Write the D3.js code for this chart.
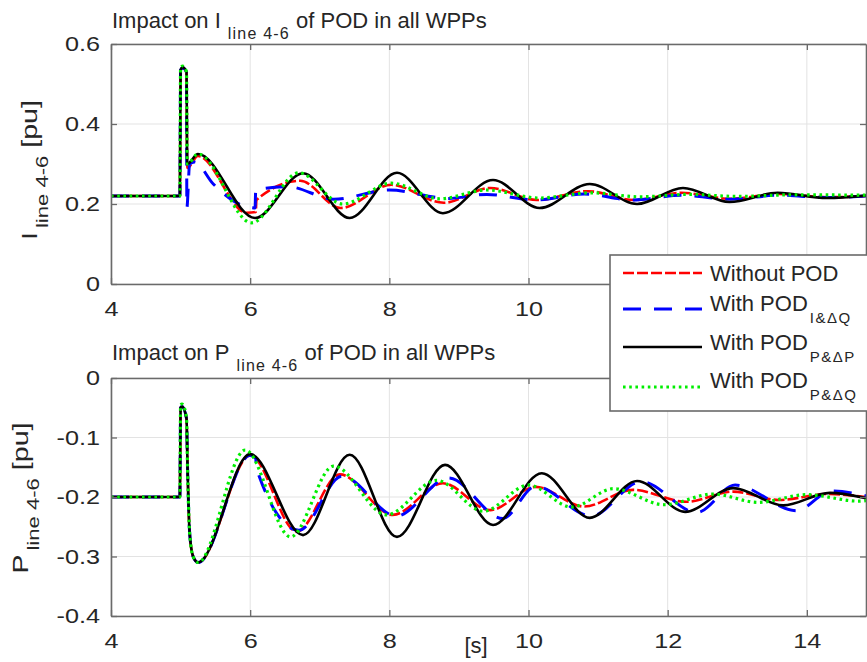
<!DOCTYPE html>
<html>
<head>
<meta charset="utf-8">
<script src="https://cdn.jsdelivr.net/npm/d3@7"></script>
<style>
  html, body { margin: 0; padding: 0; background: #fff; }
  svg { display: block; }
  text { font-family: "Liberation Sans", Arial, Helvetica, sans-serif; fill: #262626; }
</style>
</head>
<body>
<svg id="chart" width="867" height="662"></svg>
<script>
// Time axis ticks [s]
const xTicks = [4, 6, 8, 10, 12, 14];
const yTicksI = [0, 0.2, 0.4, 0.6];
const yTicksP = [-0.4, -0.3, -0.2, -0.1, 0];

// Series names (legend order = drawing order)
const seriesNames = ["Without POD", "With POD", "With POD", "With POD"];
const seriesSubs = ["", "I&\u0394Q", "P&\u0394P", "P&\u0394Q"];

// Line current I_line 4-6 [pu]: [time s, value]
const iWithout = [[4,0.22],[4.99,0.22],[5.0,0.535],[5.03,0.54],[5.085,0.53],[5.095,0.29],[5.25,0.32],[5.95,0.178],[6.08,0.18],[6.09,0.21],[6.72,0.258],[7.3,0.19],[8.03,0.248],[8.78,0.203],[9.45,0.24],[10.12,0.21],[10.85,0.232],[11.52,0.21],[12.2,0.228],[12.9,0.213],[13.6,0.225],[14.3,0.217],[14.85,0.22]];
const iIdQ = [[4,0.22],[4.99,0.22],[5.0,0.535],[5.03,0.54],[5.085,0.53],[5.09,0.19],[5.13,0.3],[5.2,0.305],[5.47,0.25],[5.95,0.193],[6.07,0.19],[6.08,0.235],[6.55,0.243],[7.2,0.212],[8.0,0.235],[8.85,0.214],[9.4,0.224],[10.1,0.21],[10.8,0.225],[11.5,0.21],[12.2,0.222],[12.9,0.212],[13.6,0.222],[14.3,0.216],[14.85,0.22]];
const iPdP = [[4,0.22],[4.99,0.22],[5.0,0.535],[5.03,0.542],[5.085,0.53],[5.095,0.3],[5.25,0.325],[6.07,0.165],[6.76,0.277],[7.43,0.165],[8.11,0.278],[8.77,0.177],[9.49,0.26],[10.16,0.19],[10.88,0.25],[11.56,0.2],[12.22,0.24],[12.89,0.205],[13.58,0.228],[14.29,0.215],[14.85,0.221]];
const iPdQ = [[4,0.22],[4.99,0.22],[5.0,0.54],[5.03,0.545],[5.085,0.53],[5.095,0.3],[5.25,0.325],[6.02,0.153],[6.7,0.278],[7.33,0.2],[8.03,0.252],[8.72,0.213],[9.4,0.235],[10.15,0.215],[10.9,0.228],[11.6,0.218],[12.3,0.224],[13.0,0.219],[13.8,0.223],[14.85,0.222]];

// Active power P_line 4-6 [pu]: [time s, value]
const pWithout = [[4,-0.2],[4.99,-0.2],[5.0,-0.05],[5.02,-0.048],[5.085,-0.068],[5.1,-0.15],[5.13,-0.26],[5.18,-0.3],[5.25,-0.31],[6.0,-0.13],[6.67,-0.258],[7.29,-0.162],[8.05,-0.23],[8.77,-0.177],[9.45,-0.222],[10.1,-0.183],[10.8,-0.216],[11.5,-0.188],[12.27,-0.208],[12.94,-0.191],[13.6,-0.205],[14.3,-0.195],[14.85,-0.2]];
const pIdQ = [[4,-0.2],[4.99,-0.2],[5.0,-0.05],[5.02,-0.048],[5.085,-0.068],[5.1,-0.15],[5.13,-0.26],[5.18,-0.3],[5.25,-0.31],[6.0,-0.13],[6.08,-0.135],[6.09,-0.152],[6.7,-0.256],[7.32,-0.165],[8.1,-0.232],[8.85,-0.168],[9.63,-0.236],[10.1,-0.182],[10.9,-0.232],[11.62,-0.174],[12.42,-0.226],[12.97,-0.18],[13.85,-0.223],[14.35,-0.19],[14.85,-0.198]];
const pPdP = [[4,-0.2],[4.99,-0.2],[5.0,-0.05],[5.02,-0.048],[5.085,-0.068],[5.1,-0.15],[5.13,-0.26],[5.18,-0.3],[5.25,-0.31],[6.0,-0.128],[6.76,-0.264],[7.43,-0.129],[8.11,-0.267],[8.8,-0.146],[9.49,-0.247],[10.19,-0.16],[10.88,-0.235],[11.56,-0.173],[12.25,-0.225],[12.94,-0.185],[13.66,-0.214],[14.33,-0.193],[14.85,-0.202]];
const pPdQ = [[4,-0.2],[4.99,-0.2],[5.0,-0.045],[5.02,-0.044],[5.085,-0.066],[5.1,-0.15],[5.13,-0.26],[5.18,-0.3],[5.25,-0.31],[5.93,-0.121],[6.58,-0.267],[7.2,-0.148],[7.96,-0.23],[8.68,-0.172],[9.35,-0.224],[10.0,-0.18],[10.62,-0.217],[11.22,-0.186],[11.95,-0.213],[12.65,-0.195],[13.3,-0.209],[14.0,-0.196],[14.75,-0.207],[14.85,-0.206]];

const styles = [
  { color: "#ff0000", dash: "11,3", width: 2.6 },
  { color: "#0000ff", dash: "18,13", width: 3 },
  { color: "#000000", dash: null, width: 2.6 },
  { color: "#00ee00", dash: "2.6,3.6", width: 3.2 }
];

const svg = d3.select("#chart");
const left = 111, right = 866;
const x = d3.scaleLinear().domain([4, 14.85]).range([left, right]);

// widen text horizontally around its own anchor point
function stretch(sel, k) {
  sel.each(function () {
    const t = d3.select(this);
    const tx = +t.attr("x") || 0, ty = +t.attr("y") || 0;
    t.attr("x", 0).attr("y", 0).attr("transform", `translate(${tx},${ty}) scale(${k},1)`);
  });
}

// the upper panel's 12 and 14 labels sit under the legend box
const panels = [
  { top: 44, bottom: 284, domain: [0, 0.6], ticks: yTicksI, data: [iWithout, iIdQ, iPdP, iPdQ],
    sym: "I", titleY: 28, labelX: 37, labelY: 170, xLabelMax: 10 },
  { top: 378, bottom: 616, domain: [-0.4, 0], ticks: yTicksP, data: [pWithout, pIdQ, pPdP, pPdQ],
    sym: "P", titleY: 360, labelX: 28, labelY: 498, xLabelMax: 14 }
];

const fmt = v => (Math.abs(v) < 1e-9 ? "0" : String(+v.toFixed(2)));

panels.forEach((p, pi) => {
  const y = d3.scaleLinear().domain(p.domain).range([p.bottom, p.top]);
  const g = svg.append("g");
  const clipId = "clip" + pi;
  svg.append("clipPath").attr("id", clipId).append("rect")
    .attr("x", left).attr("y", p.top).attr("width", right - left).attr("height", p.bottom - p.top);

  // grid
  g.append("g").selectAll("line").data(xTicks).join("line")
    .attr("x1", d => x(d)).attr("x2", d => x(d)).attr("y1", p.top).attr("y2", p.bottom)
    .attr("stroke", "#e3e3e3").attr("stroke-width", 1);
  g.append("g").selectAll("line").data(p.ticks).join("line")
    .attr("x1", left).attr("x2", right).attr("y1", d => y(d)).attr("y2", d => y(d))
    .attr("stroke", "#e3e3e3").attr("stroke-width", 1);

  // series
  const line = d3.line().x(d => x(d[0])).y(d => y(d[1])).curve(d3.curveMonotoneX);
  const lg = g.append("g").attr("clip-path", `url(#${clipId})`);
  p.data.forEach((s, i) => {
    lg.append("path").datum(s).attr("d", line)
      .attr("fill", "none").attr("stroke", styles[i].color)
      .attr("stroke-width", styles[i].width)
      .attr("stroke-dasharray", styles[i].dash)
      .attr("stroke-linejoin", "round");
  });

  // axes (box with inward ticks)
  const axB = d3.axisBottom(x).tickValues(xTicks).tickSizeInner(-6).tickSizeOuter(0).tickPadding(17)
    .tickFormat(d => (d <= p.xLabelMax ? String(d) : ""));
  const axT = d3.axisTop(x).tickValues(xTicks).tickSizeInner(-6).tickSizeOuter(0).tickFormat("");
  const axL = d3.axisLeft(y).tickValues(p.ticks).tickSizeInner(-6).tickSizeOuter(0).tickPadding(11).tickFormat(fmt);
  const axR = d3.axisRight(y).tickValues(p.ticks).tickSizeInner(-6).tickSizeOuter(0).tickFormat("");
  const style = sel => {
    sel.select(".domain").attr("stroke", "#6a6a6a").attr("stroke-width", 1.6);
    sel.selectAll(".tick line").attr("stroke", "#6a6a6a").attr("stroke-width", 1.3);
    sel.selectAll(".tick text").attr("font-size", 21).attr("fill", "#262626")
      .attr("font-family", "'Liberation Sans', Arial, sans-serif").call(stretch, 1.2);
  };
  g.append("g").attr("transform", `translate(0,${p.bottom})`).call(axB).call(style);
  g.append("g").attr("transform", `translate(0,${p.top})`).call(axT).call(style);
  g.append("g").attr("transform", `translate(${left},0)`).call(axL).call(style);
  g.append("g").attr("transform", `translate(${right},0)`).call(axR).call(style);
  g.selectAll(".tick text").filter(function () { return !this.textContent; }).remove();

  // title
  const t = svg.append("text").attr("x", 112).attr("y", p.titleY).attr("font-size", 22);
  t.append("tspan").text("Impact on " + p.sym);
  t.append("tspan").attr("font-size", 16).attr("dx", 7).attr("dy", 11).attr("letter-spacing", 1.2).text("line 4-6");
  t.append("tspan").attr("dy", -11).text(" of POD in all WPPs");

  // y label
  const yl = svg.append("text").attr("text-anchor", "middle").attr("font-size", 22)
    .attr("transform", `translate(${p.labelX},${p.labelY}) rotate(-90) scale(1.3,1)`);
  yl.append("tspan").text(p.sym);
  yl.append("tspan").attr("font-size", 17).attr("dx", 3).attr("dy", 11).text("line 4-6");
  yl.append("tspan").attr("dy", -11).text(" [pu]");
});

// x label
svg.append("text").attr("x", 476).attr("y", 653).attr("text-anchor", "middle")
  .attr("font-size", 22).text("[s]");

// legend
const lgd = svg.append("g");
lgd.append("rect").attr("x", 610).attr("y", 255).attr("width", 300).attr("height", 156)
  .attr("fill", "#fff").attr("stroke", "#6a6a6a").attr("stroke-width", 1.6);
const rowText = [281, 311, 350, 388];
const rowLine = [273, 309, 347, 387];
seriesNames.forEach((name, i) => {
  lgd.append("line").attr("x1", 623).attr("x2", 702).attr("y1", rowLine[i]).attr("y2", rowLine[i])
    .attr("stroke", styles[i].color).attr("stroke-width", styles[i].width)
    .attr("stroke-dasharray", styles[i].dash);
  const tx = lgd.append("text").attr("x", 710).attr("y", rowText[i]).attr("font-size", 22);
  tx.append("tspan").text(name);
  if (seriesSubs[i]) tx.append("tspan").attr("font-size", 15).attr("dx", 2).attr("dy", 12)
    .attr("letter-spacing", 1.5).text(seriesSubs[i]);
});
</script>
</body>
</html>
